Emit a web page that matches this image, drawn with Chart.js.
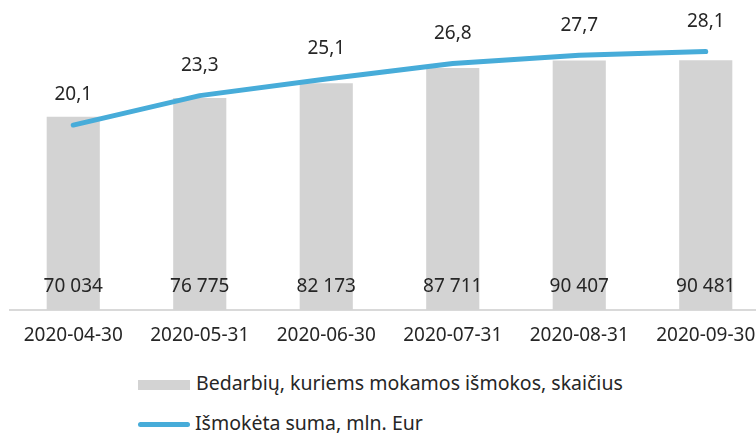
<!DOCTYPE html>
<html>
<head>
<meta charset="utf-8">
<script src="https://cdn.jsdelivr.net/npm/chart.js@4"></script>
<style>
html,body{margin:0;padding:0;background:#fff;overflow:hidden;width:756px;height:434px;}
#wrap{position:absolute;left:0;top:0;width:772px;height:360px;}
#legend{position:absolute;left:138px;top:368px;font-family:"Noto Sans",sans-serif;font-size:19.5px;color:#262626;}
.item{position:relative;height:40px;line-height:30px;white-space:nowrap;}
.sw{display:inline-block;vertical-align:middle;margin-right:6px;}
</style>
</head>
<body>
<div id="wrap"><canvas id="c"></canvas></div>
<div id="legend"></div>
<script>
const categories = ["2020-04-30","2020-05-31","2020-06-30","2020-07-31","2020-08-31","2020-09-30"];
const unemployed = [70034, 76775, 82173, 87711, 90407, 90481];
const paidSum = [20.1, 23.3, 25.1, 26.8, 27.7, 28.1];
const seriesNames = ["Bedarbių, kuriems mokamos išmokos, skaičius", "Išmokėta suma, mln. Eur"];

const BAR_COLOR = "#d3d3d3";
const LINE_COLOR = "#47acd9";
const TEXT = "#262626";
const FONT = '"Noto Sans", sans-serif';

function fmtInt(v){ return String(v).replace(/\B(?=(\d{3})+(?!\d))/g, " "); }
function fmtDec(v){ return v.toFixed(1).replace(".", ","); }

const labelPlugin = {
  id: "valueLabels",
  afterDatasetsDraw(chart){
    const ctx = chart.ctx;
    ctx.save();
    ctx.font = "19px " + FONT;
    ctx.fillStyle = TEXT;
    ctx.textAlign = "center";
    ctx.textBaseline = "middle";
    const bottom = chart.chartArea.bottom;
    chart.getDatasetMeta(0).data.forEach((el, i) => {
      ctx.fillText(fmtInt(unemployed[i]), el.x, bottom - 23);
    });
    chart.getDatasetMeta(1).data.forEach((el, i) => {
      ctx.fillText(fmtDec(paidSum[i]), el.x, el.y - 30);
    });
    ctx.restore();
  }
};

new Chart(document.getElementById("c"), {
  data: {
    labels: categories,
    datasets: [
      { type: "bar", label: seriesNames[0], data: unemployed, backgroundColor: BAR_COLOR,
        yAxisID: "y", order: 2, categoryPercentage: 1, barPercentage: 0.42 },
      { type: "line", label: seriesNames[1], data: paidSum, borderColor: LINE_COLOR, borderWidth: 5,
        pointRadius: 0, tension: 0, borderCapStyle: "round", borderJoinStyle: "round",
        yAxisID: "y1", order: 1 }
    ]
  },
  options: {
    responsive: true, maintainAspectRatio: false, animation: false,
    layout: { padding: { left: 10, right: 3, top: 34, bottom: 0 } },
    plugins: { legend: { display: false }, tooltip: { enabled: false } },
    scales: {
      x: {
        grid: { display: false, drawTicks: false },
        border: { display: true, color: "#d9d9d9", width: 2 },
        ticks: { color: TEXT, font: { family: FONT, size: 19 }, padding: 14, maxRotation: 0, autoSkip: false },
        afterFit(s){ s.height = 50; }
      },
      y: { display: false, min: 0, max: 100000 },
      y1: { display: false, min: 0, max: 30 }
    }
  },
  plugins: [labelPlugin]
});

const lg = document.getElementById("legend");
lg.innerHTML =
  '<div class="item"><span class="sw" style="width:52px;height:10px;background:' + BAR_COLOR + '"></span>' + seriesNames[0] + '</div>' +
  '<div class="item"><span class="sw" style="width:52px;height:5px;border-radius:3px;background:' + LINE_COLOR + ';margin-right:5px"></span>' + seriesNames[1] + '</div>';
</script>
</body>
</html>
